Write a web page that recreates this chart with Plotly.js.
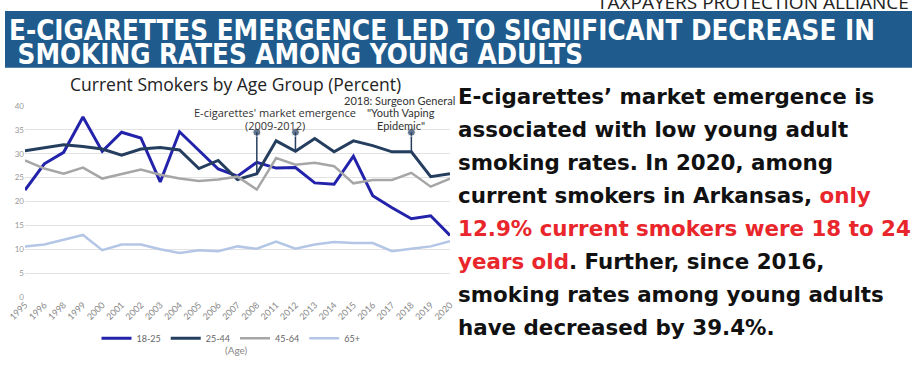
<!DOCTYPE html>
<html>
<head>
<meta charset="utf-8">
<script src="https://cdn.plot.ly/plotly-3.0.1.min.js"></script>
<style>
html,body{margin:0;padding:0;background:#fff;}
#chart{width:915px;height:365px;}
</style>
</head>
<body>
<div id="chart"></div>
<script>
// ---- data ----
const years = ['1995','1996','1998','1999','2000','2001','2002','2003','2004','2005','2006','2007','2008','2011','2012','2013','2014','2015','2016','2017','2018','2019','2020'];
const age18_25 = [22.4,27.9,30.3,37.7,30.5,34.5,33.3,24.1,34.6,30.8,26.8,25.3,28.2,27.0,27.1,23.9,23.6,29.5,21.2,18.7,16.4,17.0,12.9];
const age25_44 = [30.6,31.2,31.9,31.5,31.0,29.7,31.0,31.3,30.8,26.9,28.6,24.6,25.8,32.7,30.5,33.2,30.4,32.7,31.7,30.4,30.4,25.2,25.8];
const age45_64 = [28.6,26.9,25.8,27.1,24.8,25.8,26.7,25.6,24.8,24.3,24.6,25.2,22.5,29.1,27.7,28.1,27.4,23.8,24.5,24.5,26.0,23.1,24.8];
const age65p   = [10.6,11.0,12.0,13.0,9.8,11.0,11.0,10.0,9.2,9.8,9.6,10.6,10.1,11.6,10.1,11.0,11.5,11.3,11.3,9.6,10.1,10.6,11.7];
const seriesNames = ['18-25','25-44','45-64','65+'];
const eventYears = ['2008','2012','2018'];
const eventTop = 34.5;
const chartTitle = 'Current Smokers by Age Group (Percent)';
const bannerLines = ['E-CIGARETTES EMERGENCE LED TO SIGNIFICANT DECREASE IN', ' SMOKING RATES AMONG YOUNG ADULTS'];
const brand = 'TAXPAYERS PROTECTION ALLIANCE';
const eventLabel1 = ["E-cigarettes' market emergence", '(2009-2012)'];
const eventLabel2 = ['2018: Surgeon General', '"Youth Vaping', 'Epidemic"'];
const paragraph = [
  'E-cigarettes’ market emergence is',
  'associated with low young adult',
  'smoking rates. In 2020, among',
  'current smokers in Arkansas, <span style="color:#e8262b">only</span>',
  '<span style="color:#e8262b">12.9% current smokers were 18 to 24</span>',
  '<span style="color:#e8262b">years old</span>. Further, since 2016,',
  'smoking rates among young adults',
  'have decreased by 39.4%.'
];

// ---- layout helpers (pixel -> paper) ----
const L = 25, R = 450, T = 106, B = 301;
const px = x => (x - L) / (R - L);
const py = y => (B - y) / (B - T);

const colors = ['#2222aa', '#253e5f', '#a6a6a6', '#b4c6e6'];
const widths = [3, 3, 2.5, 2.5];
const vals = [age18_25, age25_44, age45_64, age65p];

const traces = vals.map((v, i) => ({
  type: 'scatter', mode: 'lines', x: years, y: v, name: seriesNames[i],
  line: {color: colors[i], width: widths[i]}, hoverinfo: 'x+y'
}));

eventYears.forEach(yr => {
  const idx = years.indexOf(yr);
  traces.push({
    type: 'scatter', mode: 'lines+markers', x: [yr, yr], y: [age25_44[idx], eventTop],
    line: {color: '#253e5f', width: 1.5}, marker: {size: [0, 8], color: '#253e5f'},
    showlegend: false, hoverinfo: 'skip'
  });
});

const ann = [];
ann.push({xref:'paper', yref:'paper', x: px(235), y: py(84), text: chartTitle, showarrow:false,
  xanchor:'center', yanchor:'middle', font:{family:'Open Sans', size:17.5, color:'#222'}});
ann.push({xref:'paper', yref:'paper', x: px(236), y: py(355), text: '(Age)', showarrow:false,
  xanchor:'center', yanchor:'middle', font:{family:'Lato', size:10, color:'#888'}});
eventLabel1.forEach((t, i) => ann.push({xref:'paper', yref:'paper', x: px(275), y: py(113 + 13 * i), text: t,
  showarrow:false, xanchor:'center', yanchor:'middle', font:{family:'Open Sans', size:11, color:'#333'}}));
eventLabel2.forEach((t, i) => ann.push({xref:'paper', yref:'paper', x: px(i === 0 ? 399 : 401), y: py(100 + 13 * i), text: t,
  showarrow:false, xanchor:'center', yanchor:'middle', font:{family:'Lato', size:11, color:'#333'}}));
bannerLines.forEach((t, i) => ann.push({xref:'paper', yref:'paper', x: px(7), y: py(28 + 24.5 * i), text: t,
  showarrow:false, xanchor:'left', yanchor:'middle',
  font:{family:'DejaVu Sans Condensed', size:27.5, color:'#ffffff', weight:'bold'}}));
ann.push({xref:'paper', yref:'paper', x: px(911), y: py(0), text: brand, showarrow:false,
  xanchor:'right', yanchor:'middle', font:{family:'Open Sans', size:19, color:'#222'}});
paragraph.forEach((t, i) => ann.push({xref:'paper', yref:'paper', x: px(456), y: py(96 + 33.7 * i), text: t,
  showarrow:false, xanchor:'left', yanchor:'middle', font:{family:'DejaVu Sans', size:21.4, color:'#111', weight:'bold'}}));

const layout = {
  width: 915, height: 365,
  margin: {l: L, r: 915 - R, t: T, b: 365 - B, pad: 0},
  paper_bgcolor: '#fff', plot_bgcolor: '#fff',
  showlegend: true,
  legend: {orientation:'h', x: px(231), y: py(343), xanchor:'center', yanchor:'middle',
    font:{family:'Lato', size:9, color:'#666'}, tracegroupgap:0},
  xaxis: {type:'category', showgrid:false, zeroline:false, showline:false, ticks:'',
    tickangle:-45, tickfont:{family:'Lato', size:9, color:'#888'}, fixedrange:true},
  yaxis: {range:[0,40], dtick:5, showgrid:true, gridcolor:'#e3e3e3', gridwidth:1, zeroline:false,
    showline:false, ticks:'', tickfont:{family:'Lato', size:8, color:'#999'}, fixedrange:true},
  shapes: [{type:'rect', xref:'paper', yref:'paper', x0: px(5), x1: px(912), y0: py(67), y1: py(9),
    fillcolor:'#1f5b8c', line:{width:0}, layer:'below'}],
  annotations: ann
};

Plotly.newPlot('chart', traces, layout, {displayModeBar:false, staticPlot:true});
</script>
</body>
</html>
